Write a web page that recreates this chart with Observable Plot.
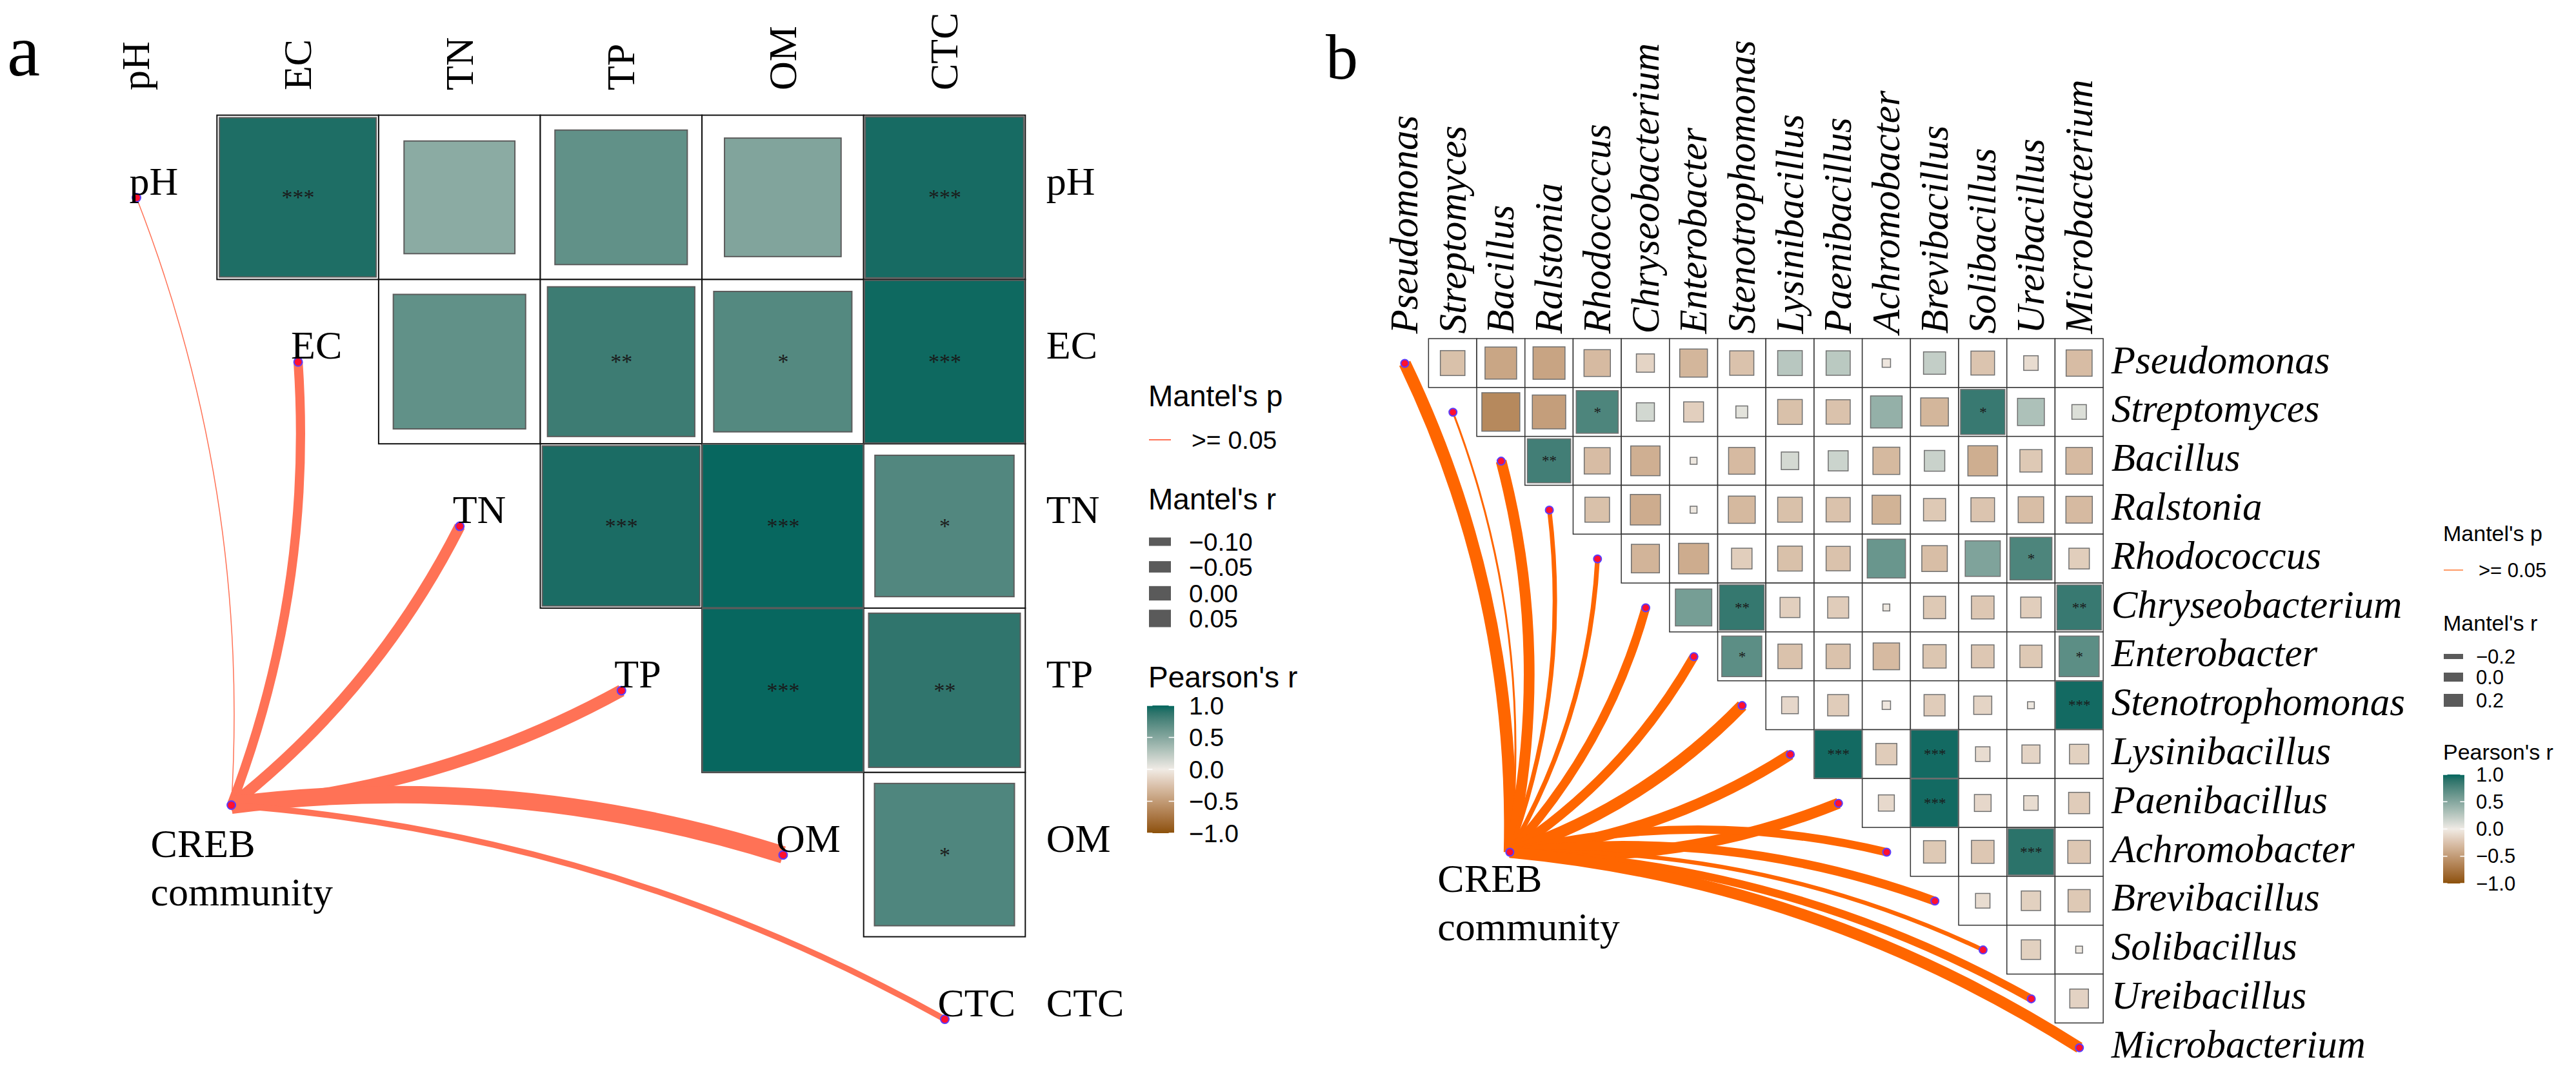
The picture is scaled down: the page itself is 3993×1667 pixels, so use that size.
<!DOCTYPE html>
<html>
<head>
<meta charset="utf-8">
<script src="https://cdn.jsdelivr.net/npm/d3@7"></script>
<script src="https://cdn.jsdelivr.net/npm/@observablehq/plot@0.6"></script>
<style>
  body { margin: 0; background: #fff; }
  #root { position: relative; width: 3993px; height: 1667px; overflow: hidden; background: #fff; }
  .panel { position: absolute; top: 0; }
</style>
</head>
<body>
<div id="root"></div>
<script>
// ---------------- DATA: panel a ----------------
const varsA = ["pH", "EC", "TN", "TP", "OM", "CTC"];
// upper triangle Pearson's r, row i vs columns i+1..n
const pearsonA = [
  [0.94, 0.47, 0.67, 0.52, 0.96],
  [0.67, 0.83, 0.73, 0.98],
  [0.95, 0.99, 0.74],
  [0.99, 0.88],
  [0.75]
];
const signifA = [
  ["pH", "EC", "***"], ["pH", "CTC", "***"],
  ["EC", "TP", "**"], ["EC", "OM", "*"], ["EC", "CTC", "***"],
  ["TN", "TP", "***"], ["TN", "OM", "***"], ["TN", "CTC", "*"],
  ["TP", "OM", "***"], ["TP", "CTC", "**"],
  ["OM", "CTC", "*"]
];
const mantelRA = [-0.11, -0.02, 0.0, 0.015, 0.07, -0.055];
const mantelPA = [">= 0.05", ">= 0.05", ">= 0.05", ">= 0.05", ">= 0.05", ">= 0.05"];
const mantelBreaksA = [-0.10, -0.05, 0.00, 0.05];

// ---------------- DATA: panel b ----------------
const taxaB = ["Pseudomonas", "Streptomyces", "Bacillus", "Ralstonia", "Rhodococcus",
  "Chryseobacterium", "Enterobacter", "Stenotrophomonas", "Lysinibacillus", "Paenibacillus",
  "Achromobacter", "Brevibacillus", "Solibacillus", "Ureibacillus", "Microbacterium"];
const pearsonB = [
  [-0.26, -0.43, -0.44, -0.30, -0.14, -0.33, -0.25, 0.26, 0.25, -0.03, 0.21, -0.24, -0.09, -0.29],
  [-0.62, -0.48, 0.76, 0.14, -0.17, 0.06, -0.26, -0.25, 0.43, -0.33, 0.85, 0.31, 0.09],
  [0.81, -0.29, -0.37, -0.02, -0.30, 0.13, 0.17, -0.31, 0.18, -0.38, -0.21, -0.30],
  [-0.26, -0.39, -0.02, -0.31, -0.26, -0.25, -0.35, -0.21, -0.24, -0.28, -0.30],
  [-0.34, -0.39, -0.18, -0.26, -0.25, 0.63, -0.28, 0.53, 0.76, -0.18],
  [0.57, 0.86, -0.17, -0.19, -0.02, -0.21, -0.22, -0.18, 0.85],
  [0.69, -0.25, -0.25, -0.30, -0.23, -0.22, -0.21, 0.69],
  [-0.12, -0.19, -0.03, -0.19, -0.14, -0.02, 0.97],
  [0.97, -0.19, 0.97, -0.09, -0.14, -0.16],
  [-0.11, 0.97, -0.12, -0.09, -0.19],
  [-0.21, -0.22, 0.90, -0.22],
  [-0.09, -0.16, -0.21],
  [-0.16, -0.02],
  [-0.15]
];
const signifB = [
  ["Streptomyces", "Rhodococcus", "*"], ["Streptomyces", "Solibacillus", "*"],
  ["Bacillus", "Ralstonia", "**"],
  ["Rhodococcus", "Ureibacillus", "*"],
  ["Chryseobacterium", "Stenotrophomonas", "**"], ["Chryseobacterium", "Microbacterium", "**"],
  ["Enterobacter", "Stenotrophomonas", "*"], ["Enterobacter", "Microbacterium", "*"],
  ["Stenotrophomonas", "Microbacterium", "***"],
  ["Lysinibacillus", "Paenibacillus", "***"], ["Lysinibacillus", "Brevibacillus", "***"],
  ["Paenibacillus", "Brevibacillus", "***"],
  ["Achromobacter", "Ureibacillus", "***"]
];
const mantelRB = [0.16, -0.25, 0.10, -0.15, -0.14, 0.02, 0.04, 0.14, 0.10, 0.11, 0.0, 0.02, -0.16, -0.01, 0.12];
const mantelPB = taxaB.map(() => ">= 0.05");
const mantelBreaksB = [-0.2, 0.0, 0.2];

const pearsonBreaks = [1.0, 0.5, 0.0, -0.5, -1.0];
const communityLabel = "CREB\ncommunity";

// ---------------- STYLE / LAYOUT ----------------
const SERIF = "'Liberation Serif', 'Times New Roman', serif";
const SANS = "'Liberation Sans', Arial, sans-serif";
const colorStops = ["#8c510a", "#f0ebe5", "#01665e"];

const cfgA = {
  vars: varsA, pearson: pearsonA, signif: signifA, mantelR: mantelRA,
  left: 0, width: 1700, height: 1667,
  cx0: 211, cstep: 250.6, cy0: 306, rstep: 254.8,
  anchor: {x: 0.587, y: 3.697},
  cellStroke: "#111", cellStrokeWidth: 2, sqStroke: "#5c5c5c", sqStrokeWidth: 2,
  starSize: 34, linkColor: "#ff7256", widthRange: [1.5, 27], curveK: 0.11,
  labelSize: 62, italic: false, diagLabels: true,
  colLabelDy: -39, rowLabelDx: 32, rowLabelDy: -5,
  crebDx: -125, crebDy: 27, crebLH: 1.21, dotR: 6.5
};
const cfgB = {
  vars: taxaB, pearson: pearsonB, signif: signifB, mantelR: mantelRB,
  left: 2000, width: 1760, height: 1667,
  cx0: 177, cstep: 74.7, cy0: 563, rstep: 75.8,
  anchor: {x: 2.18, y: 10.0},
  cellStroke: "#333", cellStrokeWidth: 1.5, sqStroke: "#707070", sqStrokeWidth: 1.5,
  starSize: 23, linkColor: "#ff6600", widthRange: [3, 19], curveK: 0.12,
  labelSize: 61, italic: true, diagLabels: false,
  colLabelDy: -8, rowLabelDx: 12, rowLabelDy: 15,
  crebDx: -112, crebDy: 9, crebLH: 1.2, dotR: 6
};

// curved link (like ggplot geom_curve): bows clockwise for targets above the anchor, counter-clockwise below
function arcCurve(k) {
  return function (context) {
    let pts = [];
    return {
      areaStart() {}, areaEnd() {},
      lineStart() { pts = []; },
      point(x, y) { pts.push([+x, +y]); },
      lineEnd() {
        if (pts.length < 2) return;
        const [x1, y1] = pts[0], [x2, y2] = pts[pts.length - 1];
        const dx = x2 - x1, dy = y2 - y1;
        const s = dy < 0 ? 1 : -1;
        const cx = (x1 + x2) / 2 + s * k * (-dy);
        const cy = (y1 + y2) / 2 + s * k * dx;
        context.moveTo(x1, y1);
        context.quadraticCurveTo(cx, cy, x2, y2);
      }
    };
  };
}

function buildPanel(cfg) {
  const n = cfg.vars.length;
  const idx = new Map(cfg.vars.map((v, i) => [v, i]));
  const sig = new Map(cfg.signif.map(([a, b, s]) => [idx.get(a) + "-" + idx.get(b), s]));
  const cells = [];
  cfg.pearson.forEach((row, i) => row.forEach((r, k) => {
    const j = i + 1 + k;
    cells.push({i, j, r, sig: sig.get(i + "-" + j) || ""});
  }));
  const links = cfg.vars.map((v, i) => ({v, i, r: cfg.mantelR[i]}));
  const w = d3.scaleLinear().domain(d3.extent(cfg.mantelR)).range(cfg.widthRange);
  const half = d => Math.sqrt(Math.abs(d.r)) / 2;
  const ax = cfg.anchor.x, ay = cfg.anchor.y;
  const nodes = cfg.vars.map((v, i) => ({x: i, y: i})).concat([{x: ax, y: ay}]);
  const labelFont = {fontFamily: SERIF, fontSize: cfg.labelSize, fontStyle: cfg.italic ? "italic" : "normal", fill: "#000"};

  const marks = [
    Plot.rect(cells, {x1: d => d.j - 0.5, x2: d => d.j + 0.5, y1: d => d.i - 0.5, y2: d => d.i + 0.5,
      fill: "white", stroke: cfg.cellStroke, strokeWidth: cfg.cellStrokeWidth}),
    Plot.rect(cells, {x1: d => d.j - half(d), x2: d => d.j + half(d), y1: d => d.i - half(d), y2: d => d.i + half(d),
      fill: "r", stroke: cfg.sqStroke, strokeWidth: cfg.sqStrokeWidth}),
    Plot.text(cells.filter(d => d.sig), {x: "j", y: "i", text: "sig", fontSize: cfg.starSize, fontFamily: SERIF, fill: "#1a1a1a"}),
    Plot.link(links, {x1: () => ax, y1: () => ay, x2: "i", y2: "i", stroke: cfg.linkColor,
      strokeWidth: d => w(d.r), strokeLinecap: "butt", curve: arcCurve(cfg.curveK)}),
    Plot.dot(nodes, {x: "x", y: "y", r: cfg.dotR, fill: "#ff1030", stroke: "#5a3cff", strokeWidth: 2}),
    Plot.text(cfg.vars, {x: (d, i) => i, y: () => -0.5, text: d => d, rotate: -90, textAnchor: "start",
      lineAnchor: "middle", dy: cfg.colLabelDy, ...labelFont}),
    Plot.text(cfg.vars, {x: () => n - 0.5, y: (d, i) => i, text: d => d, textAnchor: "start",
      lineAnchor: "bottom", dx: cfg.rowLabelDx, dy: cfg.rowLabelDy, ...labelFont}),
    Plot.text([communityLabel], {x: () => ax, y: () => ay, text: d => d, textAnchor: "start", lineAnchor: "top",
      lineHeight: cfg.crebLH, dx: cfg.crebDx, dy: cfg.crebDy, fontFamily: SERIF, fontSize: 62, fill: "#000"})
  ];
  if (cfg.diagLabels) {
    marks.push(Plot.text(cfg.vars, {x: (d, i) => i, y: (d, i) => i, text: d => d, textAnchor: "start",
      lineAnchor: "bottom", dx: -11, dy: -5, ...labelFont}));
  }
  const chart = Plot.plot({
    width: cfg.width, height: cfg.height, margin: 0,
    style: {background: "transparent", overflow: "visible"},
    x: {axis: null, domain: [(0 - cfg.cx0) / cfg.cstep, (cfg.width - cfg.cx0) / cfg.cstep], range: [0, cfg.width]},
    y: {axis: null, domain: [(0 - cfg.cy0) / cfg.rstep, (cfg.height - cfg.cy0) / cfg.rstep], range: [0, cfg.height]},
    color: {type: "linear", domain: [-1, 0, 1], range: colorStops, interpolate: "lab"},
    marks
  });
  const holder = document.createElement("div");
  holder.className = "panel";
  holder.style.left = cfg.left + "px";
  holder.appendChild(chart);
  document.getElementById("root").appendChild(holder);
  return chart;
}

const chartA = buildPanel(cfgA);
const chartB = buildPanel(cfgB);

// ---------------- overlay: panel letters + legends ----------------
const overlay = d3.select("#root").append("svg")
  .attr("width", 3993).attr("height", 1667)
  .style("position", "absolute").style("left", 0).style("top", 0);
const defs = overlay.append("defs");

function colorFn(chart) {
  const s = chart.scale && chart.scale("color");
  if (s && typeof s.apply === "function") return v => s.apply(v);
  return d3.scaleLinear().domain([-1, 0, 1]).range(colorStops).interpolate(d3.interpolateLab);
}

function text(x, y, s, fs, opts = {}) {
  return overlay.append("text").attr("x", x).attr("y", y)
    .attr("font-family", opts.family || SANS).attr("font-size", fs)
    .attr("dominant-baseline", opts.baseline || "alphabetic")
    .attr("fill", "#000").text(s);
}

text(11, 117, "a", 115, {family: SERIF});
text(2055, 122, "b", 100, {family: SERIF});

function legend(L, chart, id) {
  text(L.x, L.pTitleY, "Mantel's p", L.titleSize);
  overlay.append("line").attr("x1", L.x + 1).attr("x2", L.x + 1 + L.keyW).attr("y1", L.pKeyY).attr("y2", L.pKeyY)
    .attr("stroke", L.pColor).attr("stroke-width", 2);
  text(L.labelX + 4, L.pKeyY, L.pLabel, L.labelSize, {baseline: "central"});

  text(L.x, L.rTitleY, "Mantel's r", L.titleSize);
  const h = d3.scaleLinear().domain(d3.extent(L.breaks)).range(L.keyH);
  L.breaks.forEach((b, k) => {
    const cy = L.rKeyY[k];
    overlay.append("rect").attr("x", L.x + 1).attr("width", L.keyW)
      .attr("y", cy - h(b) / 2).attr("height", h(b)).attr("fill", "#5a5a5a");
    text(L.labelX, cy, d3.format(L.fmt)(b), L.labelSize, {baseline: "central"});
  });

  text(L.x, L.cTitleY, "Pearson's r", L.titleSize);
  const col = colorFn(chart);
  const g = defs.append("linearGradient").attr("id", "grad" + id)
    .attr("x1", 0).attr("y1", 0).attr("x2", 0).attr("y2", 1);
  d3.range(0, 1.0001, 0.05).forEach(t => g.append("stop").attr("offset", t).attr("stop-color", col(1 - 2 * t)));
  overlay.append("rect").attr("x", L.barX).attr("y", L.barY).attr("width", L.barW).attr("height", L.barH)
    .attr("fill", `url(#grad${id})`);
  const yv = d3.scaleLinear().domain([1, -1]).range([L.barY, L.barY + L.barH]);
  pearsonBreaks.forEach(v => {
    const y = yv(v);
    overlay.append("line").attr("x1", L.barX).attr("x2", L.barX + L.barW / 5).attr("y1", y).attr("y2", y)
      .attr("stroke", "white").attr("stroke-width", 1.5);
    overlay.append("line").attr("x1", L.barX + L.barW * 4 / 5).attr("x2", L.barX + L.barW).attr("y1", y).attr("y2", y)
      .attr("stroke", "white").attr("stroke-width", 1.5);
    text(L.labelX, y, d3.format(".1f")(v), L.labelSize, {baseline: "central"});
  });
}

legend({
  x: 1780, titleSize: 46, labelSize: 39, labelX: 1843, keyW: 34,
  pTitleY: 630, pKeyY: 682, pColor: "#ff7256", pLabel: mantelPA[0],
  rTitleY: 790, breaks: mantelBreaksA, rKeyY: [840, 879, 920, 959], keyH: [13, 27], fmt: ".2f",
  cTitleY: 1066, barX: 1778, barY: 1094, barW: 42, barH: 198
}, chartA, "A");

legend({
  x: 3787, titleSize: 34, labelSize: 31, labelX: 3838, keyW: 30,
  pTitleY: 839, pKeyY: 884, pColor: "#ff9a66", pLabel: mantelPB[0],
  rTitleY: 978, breaks: mantelBreaksB, rKeyY: [1018, 1050, 1086], keyH: [8, 20], fmt: ".1f",
  cTitleY: 1178, barX: 3787, barY: 1201, barW: 33, barH: 169
}, chartB, "B");
</script>
</body>
</html>
